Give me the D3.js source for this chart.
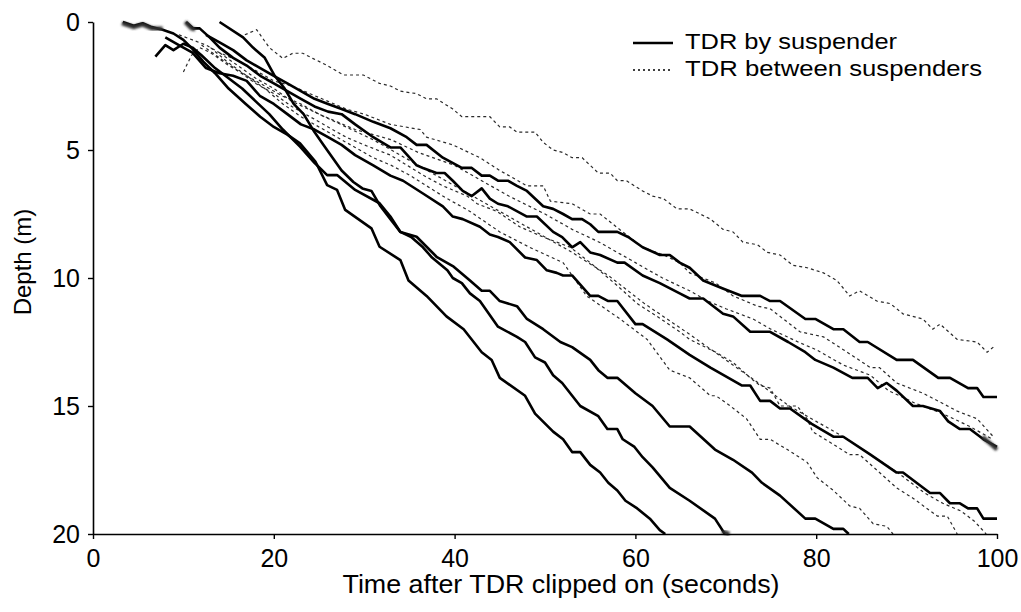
<!DOCTYPE html>
<html>
<head>
<meta charset="utf-8">
<script src="https://d3js.org/d3.v7.min.js"></script>
<style>
  body { margin: 0; background: #fff; }
  text { font-family: "Liberation Sans", Arial, sans-serif; fill: #000; }
</style>
</head>
<body>
<svg id="chart"></svg>
<script>
// depth profiles, [seconds, metres]
var suspender1 = [[3.3,0],[4.5,0.15],[5.5,0.05],[6.5,0.2],[7.7,0.3],[8.9,0.45],[10,0.7],[11,1.05],[12.2,1.55],[13.5,2.0],[15,2.6],[16.9,3.2],[18.5,3.7],[20,4.1],[21.5,4.4],[22.9,4.74],[24.6,5.45],[25.9,6.37],[27,6.56],[27.9,7.34],[30.8,8.06],[31.7,8.78],[34,9.3],[34.9,10.1],[36.9,10.7],[39.1,11.5],[41,12.0],[43,12.9],[44.1,13.2],[45,13.9],[47.8,14.6],[48.9,15.3],[50.9,16.0],[52,16.3],[53,16.8],[53.9,16.8],[55,17.3],[56.1,17.6],[57,18.0],[58,18.3],[58.9,18.7],[60.2,19.0],[61.6,19.4],[62.7,19.85],[63.3,20]];
var suspender2 = [[14,0],[16.6,0.6],[17.7,1.0],[19,1.4],[20.1,2.1],[21.2,2.6],[22.2,3.2],[23.3,3.6],[24.5,4.3],[25.5,4.8],[26.5,5.3],[27.5,5.8],[28.8,6.25],[29.8,6.5],[30.8,6.6],[31.8,7.2],[32.9,7.7],[34,8.2],[35.2,8.4],[36.5,8.8],[37.5,9.2],[39.2,9.7],[39.8,10.0],[40.8,10.2],[41.7,10.6],[42.8,10.9],[44.8,11.9],[46.9,12.3],[47.8,12.5],[48.9,13.1],[50,13.3],[50.9,13.8],[51.9,14.1],[53.9,15.0],[55.9,15.4],[56.9,15.9],[58,15.9],[58.6,16.3],[59.9,16.6],[60.8,17.0],[61.9,17.4],[63.8,18.2],[66,18.7],[68.8,19.4],[69.9,20]];
var suspender3 = [[6.9,1.35],[8,0.9],[8.9,1.1],[10,0.85],[11,1.0],[12,1.3],[13.5,1.8],[15,2.2],[16.5,2.6],[18,3.1],[19.5,3.6],[21,4.2],[22.9,4.87],[24.5,5.5],[25.9,5.98],[27,5.98],[29,6.56],[31.7,7.08],[32.9,7.6],[34,8.2],[35.8,8.39],[38,9.17],[39.9,9.56],[41.7,10.1],[43,10.5],[43.9,10.5],[45,10.9],[46.9,11.1],[48,11.6],[49.8,12.0],[51.7,12.5],[53,12.7],[55,13.2],[55.9,13.6],[56.9,13.9],[58,13.9],[60,14.5],[61.9,15.0],[63.8,15.8],[66,15.8],[68.8,16.7],[70.8,17.1],[72.9,17.6],[74,18.0],[76,18.5],[78.8,19.4],[79.9,19.4],[81.9,19.8],[83,19.8],[83.6,20]];
var suspender4 = [[12.5,0.5],[14,0.8],[15.5,1.1],[17,1.5],[18.5,1.8],[20,2.1],[21.5,2.4],[23,2.7],[24.5,3.0],[26,3.2],[27.5,3.4],[29,3.6],[31,3.9],[32.9,4.15],[34.7,4.5],[35.8,4.8],[36.9,4.8],[38.7,5.3],[40.8,5.7],[41.9,5.7],[43,6.0],[43.9,6.0],[44.8,6.2],[45.9,6.2],[46.9,6.4],[48,6.6],[49.8,7.2],[50.9,7.3],[52,7.5],[53,7.7],[54.1,7.7],[55,7.9],[55.9,8.2],[58,8.2],[59.2,8.4],[60.8,8.8],[62.7,9.1],[63.8,9.1],[64.9,9.4],[66,9.6],[67.5,10.1],[69.6,10.4],[71.8,10.7],[73.8,10.7],[74.9,10.9],[76,10.9],[78.8,11.6],[79.9,11.6],[81.9,12.0],[83,12.0],[84.8,12.5],[85.7,12.5],[88.9,13.2],[90.7,13.2],[93.5,13.9],[94.8,13.9],[96.8,14.3],[97.8,14.3],[98.5,14.65],[100,14.65]];
var suspender5 = [[10.3,0],[11.1,0.25],[11.8,0.25],[12.9,0.6],[14,1.0],[15.5,1.4],[17,1.7],[18.5,2.1],[20,2.4],[21.5,2.7],[23,3.0],[24.5,3.3],[26,3.5],[27.5,3.6],[29,4.0],[31,4.5],[32.9,4.9],[34,4.9],[35.8,5.6],[36.5,5.7],[38,5.9],[38.9,5.9],[39.8,6.2],[40.9,6.6],[41.9,6.8],[43,6.5],[43.9,6.9],[44.8,7.1],[45.9,7.2],[48,7.6],[49.1,7.6],[50.9,8.2],[51.9,8.4],[53,8.8],[53.9,8.6],[55,9.0],[56.1,9.1],[58,9.4],[58.8,9.4],[60.8,9.9],[62.7,10.2],[64.9,10.6],[66,10.8],[67.5,10.8],[69.7,11.4],[70.8,11.5],[72.7,12.1],[74.9,12.1],[76.9,12.5],[78.8,12.9],[79.9,13.2],[81.9,13.5],[84,13.9],[85.7,13.9],[86.8,14.3],[87.8,14.1],[88.9,14.4],[90.7,15.0],[91.8,15.0],[93.7,15.2],[94.6,15.6],[95.9,15.9],[97,15.9],[98.5,16.3],[100,16.6]];
var suspender6 = [[8,0.6],[9.5,0.9],[11,1.2],[12.5,1.8],[14,2.0],[15.5,2.1],[17,2.3],[18.5,2.9],[20,3.2],[21.5,3.6],[23,4.0],[24.5,4.2],[26,4.5],[27.5,4.8],[29,5.2],[31,5.6],[32.9,6.0],[34.3,6.2],[36.5,6.7],[38.7,7.2],[39.8,7.6],[40.9,7.7],[42.8,8.0],[43.9,8.3],[44.8,8.4],[46.1,8.6],[47.8,9.2],[49.1,9.3],[50.2,9.7],[51.3,9.8],[52,9.9],[53,9.9],[55,10.7],[55.9,10.7],[57,10.9],[58,10.9],[60,11.8],[60.8,11.8],[63.5,12.4],[66,13.0],[68.3,13.5],[71.8,14.2],[72.7,14.2],[73.8,14.8],[74.9,14.8],[76,15.1],[77.1,15.1],[79.5,15.7],[81.9,16.2],[83,16.2],[86,16.9],[88.9,17.6],[89.6,17.6],[92.6,18.4],[93.7,18.4],[94.8,18.8],[95.9,18.8],[96.8,19.0],[97.8,19.0],[98.5,19.4],[100,19.4]];

var between1 = [[16.8,0.5],[18.1,0.3],[19.5,1.0],[21,1.42],[22.1,1.22],[23.2,1.22],[24.3,1.42],[25.8,1.68],[27.7,2.07],[29.9,2.07],[31.7,2.4],[32.9,2.5],[34,2.7],[35.8,2.8],[36.9,3.0],[38,3.0],[39.8,3.4],[40.8,3.7],[43.9,3.7],[45,4.1],[46.1,4.1],[46.9,4.3],[48.9,4.3],[49.8,4.7],[50.9,5.0],[52,5.1],[53,5.3],[54.1,5.3],[55.3,5.7],[55.9,5.9],[57.2,5.9],[58,6.2],[59,6.2],[60.8,6.6],[61.9,6.8],[63.1,6.9],[64.6,7.3],[66,7.3],[68.3,7.7],[69.7,8.1],[70.8,8.2],[71.9,8.6],[73.5,8.7],[74.6,9.0],[76,9.1],[77.4,9.5],[79,9.6],[80.8,9.8],[82.3,10.1],[83.7,10.7],[84.8,10.5],[86.7,10.9],[88.2,11.0],[89.6,11.4],[91.8,11.6],[92.9,12.0],[93.7,11.8],[95.6,12.4],[97.8,12.5],[98.9,12.9],[99.6,12.7]];
var between2 = [[9.5,0.5],[11,0.7],[12.5,0.9],[14,1.2],[16,1.5],[18,1.9],[20,2.3],[22,2.5],[24,2.8],[26,3.1],[28,3.4],[30,3.6],[32.9,4.0],[36.2,4.2],[36.9,4.5],[39.8,4.8],[42.8,5.3],[45,5.8],[48,6.4],[49.8,6.4],[50.6,7.0],[53,7.1],[55,7.5],[56.1,7.5],[58.6,8.2],[60.8,8.8],[63.1,9.1],[64.9,9.4],[66,9.8],[68.9,10.2],[70.8,10.7],[73.5,11.1],[74.9,11.2],[78.2,12.1],[80.8,12.3],[83,12.8],[86,13.5],[87,13.5],[88.9,14.1],[91.8,14.5],[94,14.9],[95.6,15.2],[97.8,15.5],[99.6,16.2]];
var between3 = [[10,1.95],[10.9,1.3],[11.8,1.0],[13,1.2],[15,1.7],[17,2.1],[19,2.5],[21,2.9],[23,3.2],[25,3.6],[27,3.9],[29,4.2],[31,4.4],[33,4.6],[36,5.1],[40,5.6],[43,6.2],[46,6.8],[50,7.5],[53,8.1],[56,8.6],[60,9.4],[63,10.0],[66,10.5],[68,10.9],[70,11.2],[73,11.6],[75,12.0],[78,12.5],[80,12.8],[83,13.4],[86,13.8],[88,14.4],[91,14.9],[94,15.3],[97,15.8],[99.5,16.3]];
var between4 = [[12,0.9],[14,1.4],[16,1.9],[18,2.4],[20,2.8],[22,3.3],[24,3.7],[26,4.1],[28,4.5],[30,4.8],[32.9,5.2],[36.6,6.0],[38.7,6.4],[41.4,6.8],[42.5,7.1],[44.7,7.4],[47.2,8.0],[49.8,8.4],[52.8,8.8],[55,9.4],[58,10.3],[60.2,11.0],[62.4,11.5],[64.9,12.1],[66,12.4],[68.9,12.9],[70.8,13.3],[72.7,13.9],[73.8,14.2],[74.9,14.3],[76,15.0],[77.9,15.0],[79,15.5],[79.6,16.0],[81.9,16.5],[83.7,16.9],[84.8,16.9],[86.7,17.5],[88.9,18.2],[90.7,18.6],[93.4,19.3],[94.5,19.3],[95.6,20]];
var between5 = [[13,1.0],[15,1.6],[17,2.1],[19,2.6],[21,3.2],[23,3.7],[25,4.1],[27,4.5],[29,4.9],[31,5.3],[33,5.6],[35.1,6.0],[38.7,6.8],[41.7,7.4],[45,8.2],[48.3,8.8],[52,9.4],[54.6,10.7],[58.3,11.6],[61.3,12.4],[63.8,13.6],[66,13.9],[68.3,14.6],[68.9,14.6],[70.5,15.0],[72.3,15.5],[73.8,16.3],[74.9,16.3],[76.8,16.7],[79,17.2],[80.1,17.8],[81.9,18.3],[83.7,18.9],[84.8,19.0],[86.3,19.6],[87.8,19.7],[88.5,20]];
var between6 = [[14,1.2],[16,1.7],[18,2.2],[20,2.6],[22,3.1],[25,3.6],[28,4.1],[31,4.6],[33,5.0],[37,5.8],[41,6.6],[45,7.4],[49,8.2],[53,9.0],[57,9.9],[61,11.0],[66,12.2],[70,13.2],[74,14.2],[77,15.0],[80,15.6],[83,16.2],[86,16.9],[89,17.6],[92,18.4],[94,18.8],[96,19.1],[97.5,19.5],[98.8,20]];

// blurred recorder marks at the start and end of some profiles
var smudges = [
  [[3.2,0.05],[4.5,0.2],[5.5,0.1],[6.5,0.25],[7.7,0.25]],
  [[10.2,0],[10.9,0.25],[11.3,0.3]],
  [[62.6,20],[64.3,20]], [[69.6,19.9],[70.4,20]], [[82.4,20],[84.2,20]],
  [[88.3,20],[89.3,20]], [[94.9,20],[96,20]], [[98,20],[99.4,20]],
  [[98.3,14.65],[100,14.65]], [[98.4,16.2],[100,16.7]], [[98.3,19.4],[100,19.4]]
];

var bySuspender = [suspender1, suspender2, suspender3, suspender4, suspender5, suspender6];
var betweenSuspenders = [between1, between2, between3, between4, between5, between6];

var xTicks = [0, 20, 40, 60, 80, 100];
var yTicks = [0, 5, 10, 15, 20];
var legendLabels = ["TDR by suspender", "TDR between suspenders"];

var W = 1021, H = 612;
var margin = {top: 22, right: 24, bottom: 78, left: 93};
var width = W - margin.left - margin.right,
    height = H - margin.top - margin.bottom;

var svg = d3.select("#chart")
    .attr("width", W)
    .attr("height", H);

var defs = svg.append("defs");
defs.append("filter").attr("id", "smudge")
    .attr("x", "-50%").attr("y", "-50%").attr("width", "200%").attr("height", "200%")
  .append("feGaussianBlur").attr("stdDeviation", 1.1);

var g = svg.append("g")
    .attr("transform", "translate(" + margin.left + "," + margin.top + ")");

var x = d3.scaleLinear().domain([0, 100]).range([0, width]);
var y = d3.scaleLinear().domain([0, 20]).range([0, height]);

var line = d3.line()
    .x(function(d) { return x(d[0]); })
    .y(function(d) { return y(d[1]); });

// dotted profiles first, solid ones on top
g.selectAll(".between")
    .data(betweenSuspenders)
  .enter().append("path")
    .attr("class", "between")
    .attr("d", line)
    .attr("fill", "none")
    .attr("stroke", "#2a2a2a")
    .attr("stroke-width", 1.2)
    .attr("stroke-dasharray", "3,3");

g.selectAll(".suspender")
    .data(bySuspender)
  .enter().append("path")
    .attr("class", "suspender")
    .attr("d", line)
    .attr("fill", "none")
    .attr("stroke", "#000")
    .attr("stroke-width", 2.6)
    .attr("stroke-linejoin", "round");

g.selectAll(".smudge")
    .data(smudges)
  .enter().append("path")
    .attr("class", "smudge")
    .attr("d", line)
    .attr("fill", "none")
    .attr("stroke", "#333")
    .attr("stroke-width", 4)
    .attr("filter", "url(#smudge)");

// axes
var xAxis = g.append("g")
    .attr("transform", "translate(0," + height + ")")
    .call(d3.axisBottom(x).tickValues(xTicks).tickSize(5).tickPadding(10).tickSizeOuter(0));
var yAxis = g.append("g")
    .call(d3.axisLeft(y).tickValues(yTicks).tickSize(5).tickPadding(8).tickSizeOuter(0));

[xAxis, yAxis].forEach(function(a) {
  a.select(".domain").attr("stroke", "#000").attr("stroke-width", 1.6);
  a.selectAll(".tick line").attr("stroke", "#000").attr("stroke-width", 1.4);
  a.selectAll(".tick text")
    .style("font-family", "'Liberation Sans', Arial, sans-serif")
    .style("font-size", "25px")
    .attr("fill", "#000");
});

// axis titles
svg.append("text")
    .attr("x", 561)
    .attr("y", 593)
    .attr("text-anchor", "middle")
    .attr("textLength", 437)
    .attr("lengthAdjust", "spacingAndGlyphs")
    .style("font-size", "25px")
    .text("Time after TDR clipped on (seconds)");

svg.append("text")
    .attr("transform", "translate(31,262) rotate(-90)")
    .attr("text-anchor", "middle")
    .style("font-size", "24px")
    .text("Depth (m)");

// legend
svg.append("line")
    .attr("x1", 633).attr("x2", 673)
    .attr("y1", 43).attr("y2", 43)
    .attr("stroke", "#000").attr("stroke-width", 2.6);
svg.append("text")
    .attr("x", 685).attr("y", 49)
    .attr("textLength", 212)
    .attr("lengthAdjust", "spacingAndGlyphs")
    .style("font-size", "22px")
    .text(legendLabels[0]);

svg.append("line")
    .attr("x1", 633).attr("x2", 673)
    .attr("y1", 70).attr("y2", 70)
    .attr("stroke", "#000").attr("stroke-width", 1.5)
    .attr("stroke-dasharray", "2,3");
svg.append("text")
    .attr("x", 685).attr("y", 76)
    .attr("textLength", 297)
    .attr("lengthAdjust", "spacingAndGlyphs")
    .style("font-size", "22px")
    .text(legendLabels[1]);
</script>
</body>
</html>
